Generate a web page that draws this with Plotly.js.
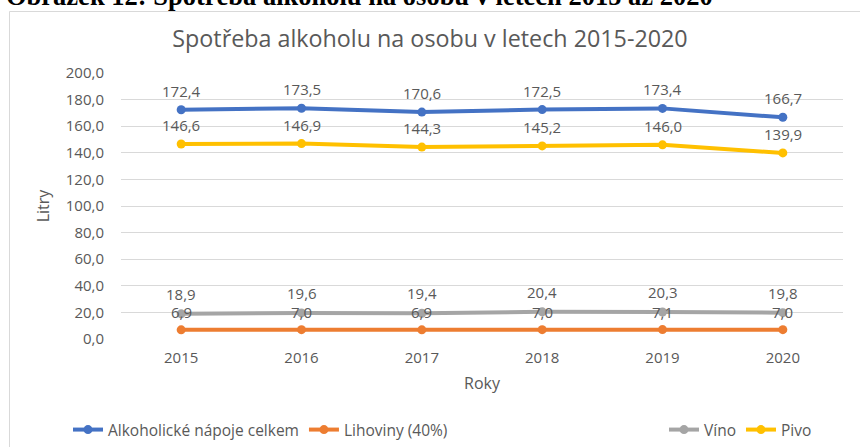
<!DOCTYPE html>
<html>
<head>
<meta charset="utf-8">
<script src="https://cdn.plot.ly/plotly-3.0.1.min.js"></script>
<style>
html,body{margin:0;padding:0;background:#fff;overflow:hidden;}
#chart{width:860px;height:447px;}
</style>
</head>
<body>
<div id="chart"></div>
<script>
const years = ["2015","2016","2017","2018","2019","2020"];
const celkem = [172.4, 173.5, 170.6, 172.5, 173.4, 166.7];
const lihoviny = [6.9, 7.0, 6.9, 7.0, 7.1, 7.0];
const vino = [18.9, 19.6, 19.4, 20.4, 20.3, 19.8];
const pivo = [146.6, 146.9, 144.3, 145.2, 146.0, 139.9];
const seriesNames = ["Alkoholické nápoje celkem", "Lihoviny (40%)", "Víno", "Pivo"];
const seriesColors = ["#4472C4", "#ED7D31", "#A5A5A5", "#FFC000"];
const yTicks = [0, 20, 40, 60, 80, 100, 120, 140, 160, 180, 200];

const FONT = "Open Sans, Liberation Sans, sans-serif";
const TXT = "#595959";

const seriesData = [celkem, lihoviny, vino, pivo];
const legendIds = ["legend", "legend", "legend2", "legend2"];
const labelShift = [19, 18, 20, 19];

const traces = seriesData.map((vals, i) => ({
  type: "scatter",
  mode: "lines+markers",
  x: years,
  y: vals,
  name: seriesNames[i],
  legend: legendIds[i],
  line: {color: seriesColors[i], width: 4},
  marker: {color: seriesColors[i], size: 9},
  hoverinfo: "skip"
}));

const fmt = v => v.toFixed(1).replace(".", ",");
const annotations = [];
seriesData.forEach((vals, i) => {
  vals.forEach((v, j) => {
    annotations.push({
      x: j, y: v, xref: "x", yref: "y",
      text: fmt(v), showarrow: false,
      yshift: labelShift[i], yanchor: "middle", xanchor: "center",
      font: {family: FONT, size: 15, color: TXT}
    });
  });
});

// Caption (cut-off at the top)
annotations.push({
  xref: "paper", yref: "paper",
  x: (4 - 121) / 722, y: (339 + 4.5) / 266,
  xanchor: "left", yanchor: "middle",
  text: "<b>Obrázek 12: Spotřeba alkoholu na osobu v letech 2015 až 2020</b>",
  showarrow: false,
  font: {family: "Liberation Serif, Times New Roman, serif", size: 26.5, color: "#000"}
});

const layout = {
  width: 860, height: 447,
  autosize: false,
  margin: {l: 121, r: 17, t: 73, b: 108},
  paper_bgcolor: "#fff",
  plot_bgcolor: "#fff",
  separators: ", ",
  title: {
    text: "Spotřeba alkoholu na osobu v letech 2015-2020",
    font: {family: FONT, size: 23.3, color: TXT},
    x: 0.5, xanchor: "center",
    y: 1 - 39 / 447, yanchor: "middle", yref: "container"
  },
  xaxis: {
    type: "category",
    range: [-0.5, 5.5],
    showgrid: false,
    zeroline: false,
    showline: false,
    ticks: "",
    ticklabelstandoff: 8,
    tickfont: {family: FONT, size: 15, color: TXT},
    title: {text: "Roky", font: {family: FONT, size: 16, color: TXT}, standoff: 11},
    automargin: false,
    fixedrange: true
  },
  yaxis: {
    range: [0, 200],
    tickvals: yTicks,
    tickformat: ".1f",
    showgrid: true,
    gridcolor: "#D9D9D9",
    gridwidth: 1,
    zeroline: false,
    showline: false,
    ticks: "",
    ticklabelstandoff: 16,
    tickfont: {family: FONT, size: 15, color: TXT},
    title: {text: "Litry", font: {family: FONT, size: 16, color: TXT}, standoff: 12},
    automargin: false,
    fixedrange: true
  },
  showlegend: true,
  legend: {
    orientation: "h",
    xref: "container", yref: "container",
    x: 68 / 860, xanchor: "left",
    y: (447 - 430) / 447, yanchor: "middle",
    bgcolor: "rgba(0,0,0,0)",
    font: {family: FONT, size: 15.5, color: TXT},
    itemwidth: 30,
    traceorder: "normal"
  },
  legend2: {
    orientation: "h",
    xref: "container", yref: "container",
    x: 664 / 860, xanchor: "left",
    y: (447 - 430) / 447, yanchor: "middle",
    bgcolor: "rgba(0,0,0,0)",
    font: {family: FONT, size: 15.5, color: TXT},
    itemwidth: 30,
    traceorder: "normal"
  },
  shapes: [{
    type: "rect", xref: "paper", yref: "paper",
    x0: (9.5 - 121) / 722, x1: 2,
    y0: -2, y1: (339 - 11.5) / 266,
    line: {color: "#D9D9D9", width: 1},
    fillcolor: "rgba(0,0,0,0)",
    layer: "below"
  }],
  annotations: annotations
};

Plotly.newPlot("chart", traces, layout, {displayModeBar: false, staticPlot: true});
</script>
</body>
</html>
